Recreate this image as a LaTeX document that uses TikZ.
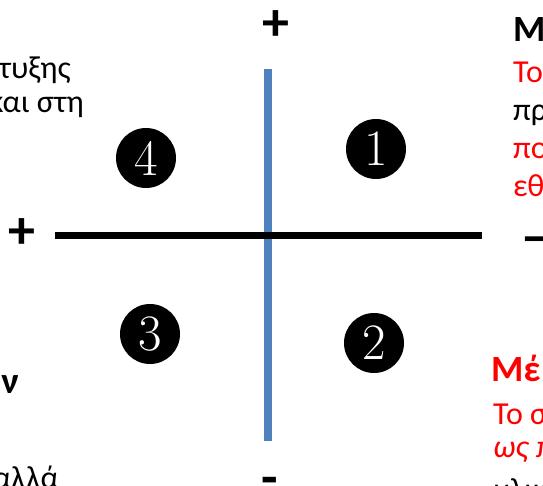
\documentclass[tikz,border=0pt]{standalone}
\usepackage{fontspec}
\newfontfamily\calfont{Carlito}
\definecolor{axisblue}{RGB}{79,129,189}
\definecolor{txtred}{RGB}{255,0,0}
\begin{document}
\begin{tikzpicture}[x=1pt,y=-1pt,
  numcirc/.style={circle,fill=black,minimum size=60pt,inner sep=0pt,text=white,font=\fontsize{51}{51}\selectfont},
  body/.style={inner sep=0pt,font=\calfont\fontsize{32}{32}\selectfont},
  bodyr/.style={inner sep=0pt,font=\calfont\fontsize{32}{32}\selectfont},
  head/.style={inner sep=0pt,font=\calfont\bfseries\fontsize{37}{37}\selectfont},
  sign/.style={inner sep=0pt,font=\calfont\bfseries\fontsize{54}{54}\selectfont}]
\useasboundingbox (0,0) rectangle (543,486);
\clip (0,0) rectangle (543,486);
% axes
\coordinate (vt) at (268,69);
\coordinate (vb) at (268,441);
\coordinate (hl) at (55,235.5);
\coordinate (hr) at (482,235.5);
\draw[axisblue,line width=8pt] (vt) -- (vb);
\draw[black,line width=7pt] (hl) -- (hr);
% signs
\node[sign] (ptop) at (276,26) {+};
\node[sign] (pleft) at (22,234) {+};
\node[sign,anchor=west] (mright) at (521,246) {–};
\node[sign] (mbot) at (270,486) {-};
% numbered circles
\node[numcirc] (c1) at (376,149) {1};
\node[numcirc] (c2) at (374,343) {2};
\node[numcirc] (c3) at (150,334) {3};
\node[numcirc] (c4) at (146,158) {4};
% left texts (clipped)
\node[body,anchor=base east] (l1) at (71,79) {τυξης};
\node[body,anchor=base east] (l2) at (84,113) {και στη};
\node[head,anchor=base east] (l3) at (19,393) {ν};
\node[body,anchor=base east] (l4) at (59,488) {αλλά};
% right top texts
\node[head,anchor=base west] (r0) at (513,42) {Μ};
\node[bodyr,anchor=base west,text=txtred] (r1) at (513,83) {Το};
\node[bodyr,anchor=base west] (r2) at (513,121) {πρ};
\node[bodyr,anchor=base west,text=txtred] (r3) at (513,159) {πο};
\node[bodyr,anchor=base west,text=txtred] (r4) at (513,197) {εθ};
% right bottom texts
\node[head,anchor=base west,text=txtred] (b0) at (491,381) {Μέ};
\node[bodyr,anchor=base west,text=txtred] (b1) at (493,424) {Το σ};
\node[bodyr,anchor=base west,text=txtred] (b2) at (493,457) {\itshape ως π};
\node[bodyr,anchor=base west] (b3) at (493,500) {υλικ};
\end{tikzpicture}
\end{document}
